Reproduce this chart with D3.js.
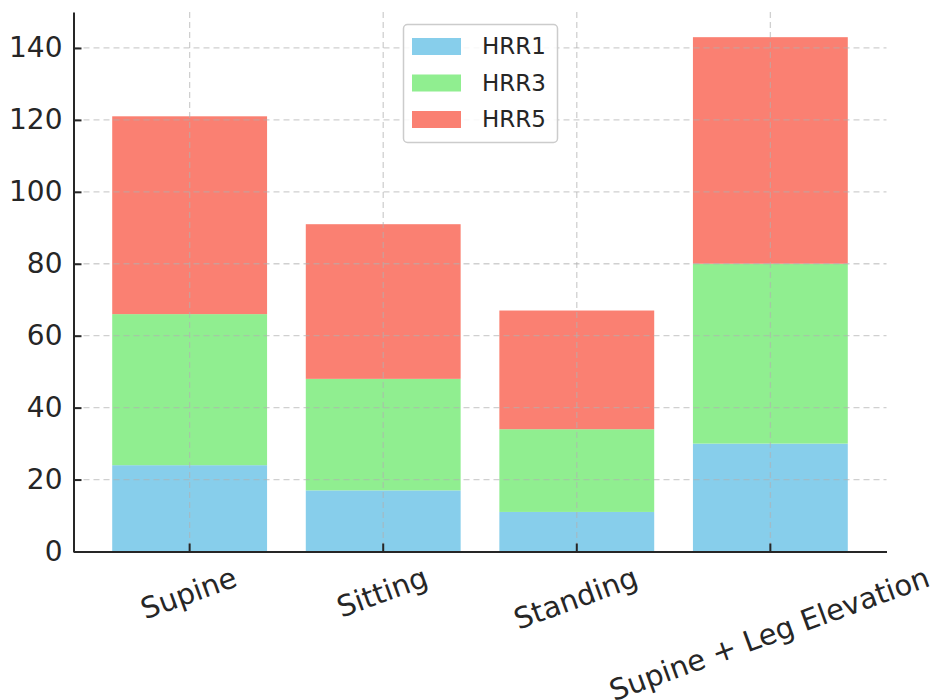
<!DOCTYPE html>
<html><head><meta charset="utf-8">
<script src="https://cdn.jsdelivr.net/npm/d3@7"></script>
<style>body{margin:0;background:#fff}svg{display:block}text{font-family:"DejaVu Sans",sans-serif;fill:#262626}</style>
</head><body><svg id="c" width="935" height="700"></svg>
<script>
const categories = ["Supine", "Sitting", "Standing", "Supine + Leg Elevation"];
const seriesNames = ["HRR1", "HRR3", "HRR5"];
const hrr1 = [24, 17, 11, 30];
const hrr3 = [42, 31, 23, 50];
const hrr5 = [55, 43, 33, 63];
const colors = ["#87CEEB", "#90EE90", "#FA8072"];
const yTicks = [0, 20, 40, 60, 80, 100, 120, 140];

const svg = d3.select("#c");
const L = 73.5, R = 886.5, T = 12, B = 551.5;
const x = d3.scaleBand().domain(categories).range([L, R]).paddingInner(0.2).paddingOuter(0.2);
const y = d3.scaleLinear().domain([0, 150]).range([B, T]);

const rows = categories.map((c, i) => ({cat: c, HRR1: hrr1[i], HRR3: hrr3[i], HRR5: hrr5[i]}));
const stack = d3.stack().keys(seriesNames)(rows);

svg.append("g").selectAll("g").data(stack).join("g").attr("fill", (d, i) => colors[i])
  .selectAll("rect").data(d => d).join("rect")
  .attr("x", d => x(d.data.cat)).attr("width", x.bandwidth())
  .attr("y", d => y(d[1])).attr("height", d => y(d[0]) - y(d[1]));

// grid
const grid = svg.append("g").attr("stroke", "#b0b0b0").attr("stroke-opacity", 0.6).attr("stroke-width", 1.3).attr("stroke-dasharray", "6,4");
grid.selectAll(".h").data(yTicks.filter(t => t > 0)).join("line")
  .attr("x1", L).attr("x2", R).attr("y1", d => y(d)).attr("y2", d => y(d));
grid.selectAll(".v").data(categories).join("line")
  .attr("x1", d => x(d) + x.bandwidth() / 2).attr("x2", d => x(d) + x.bandwidth() / 2).attr("y1", T).attr("y2", B);

// axes
const yAxis = svg.append("g").attr("transform", `translate(${L},0)`)
  .call(d3.axisLeft(y).tickValues(yTicks).tickSizeInner(-8).tickSizeOuter(0).tickPadding(11));
const xAxis = svg.append("g").attr("transform", `translate(0,${B})`)
  .call(d3.axisBottom(x).tickSizeInner(-8).tickSizeOuter(0).tickFormat(""));
[yAxis, xAxis].forEach(a => {
  a.select(".domain").attr("stroke", "#262626").attr("stroke-width", 2);
  a.selectAll(".tick line").attr("stroke", "#262626").attr("stroke-width", 2);
});
yAxis.selectAll(".tick text").attr("font-size", 28).attr("fill", "#262626").style("font-family", "DejaVu Sans");

// x labels rotated 20deg, centered
const ang = 20 * Math.PI / 180;
const fs = 29;
const lab = svg.append("g");
categories.forEach(c => {
  const t = lab.append("text").attr("font-size", fs).attr("text-anchor", "middle").attr("dominant-baseline", "central").text(c);
  const w = t.node().getComputedTextLength();
  const h = fs * 1.0;
  const bh = w * Math.sin(ang) + h * Math.cos(ang);
  const cx = x(c) + x.bandwidth() / 2 - 1, cy = B + 11 + bh / 2;
  t.attr("transform", `translate(${cx},${cy}) rotate(-20)`);
});

// legend
const lg = svg.append("g");
lg.append("rect").attr("x", 403.5).attr("y", 24.5).attr("width", 154).attr("height", 118).attr("rx", 4)
  .attr("fill", "#fff").attr("fill-opacity", 0.85).attr("stroke", "#cccccc").attr("stroke-width", 1.5);
seriesNames.forEach((s, i) => {
  const yy = 46 + i * 36.5;
  lg.append("rect").attr("x", 412).attr("y", yy - 8).attr("width", 49).attr("height", 17).attr("fill", colors[i]);
  lg.append("text").attr("x", 482).attr("y", yy).attr("dominant-baseline", "central").attr("font-size", 23).text(s);
});
</script></body></html>
